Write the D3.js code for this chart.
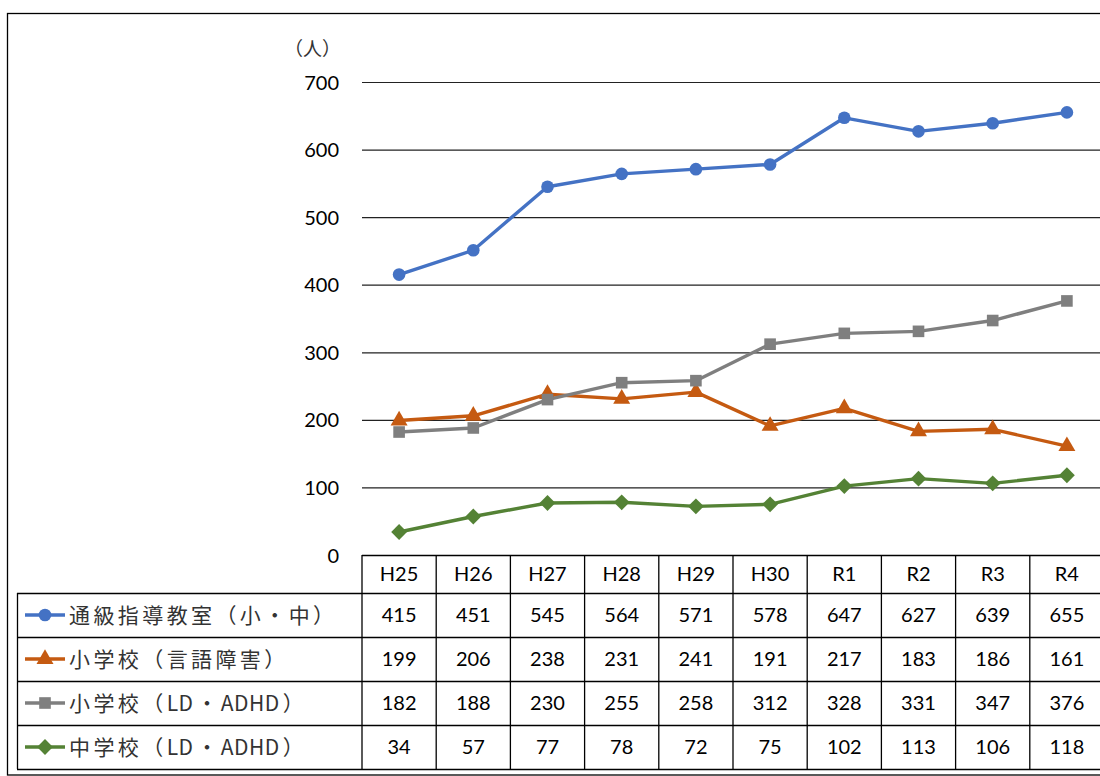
<!DOCTYPE html>
<html><head><meta charset="utf-8">
<script src="https://cdn.jsdelivr.net/npm/d3@7"></script>
<style>
html,body{margin:0;padding:0;background:#fff;}
svg{display:block;}
</style></head>
<body>
<svg id="c" width="1100" height="776"></svg>
<script>
const categories = ["H25","H26","H27","H28","H29","H30","R1","R2","R3","R4"];
const seriesNames = ["通級指導教室（小・中）","小学校（言語障害）","小学校（LD・ADHD）","中学校（LD・ADHD）"];
const s1 = [415,451,545,564,571,578,647,627,639,655];
const s2 = [199,206,238,231,241,191,217,183,186,161];
const s3 = [182,188,230,255,258,312,328,331,347,376];
const s4 = [34,57,77,78,72,75,102,113,106,118];
const yTicks = [0,100,200,300,400,500,600,700];
const yUnit = "（人）";

const colors = ["#4472C4","#C55A11","#7F7F7F","#548235"];
const markers = [d3.symbolCircle, d3.symbolTriangle, d3.symbolSquare, d3.symbolSquare];
const markerSizes = [125, 125, 135, 125];
const markerRot = [0, 0, 0, 45];
const series = [s1,s2,s3,s4];

const svg = d3.select("#c");
const numFont = "Lato, 'Noto Sans CJK JP', sans-serif";
const jpFont = "'Noto Sans CJK JP', sans-serif";

svg.append("rect").attr("x",7.5).attr("y",13.5).attr("width",1100).attr("height",761.5)
  .attr("fill","none").attr("stroke","#000").attr("stroke-width",1.3);

const x0 = 362, colW = 74.2;
const x = d3.scaleBand().domain(categories).range([x0, x0 + colW*categories.length]);
const y = d3.scaleLinear().domain([0,700]).range([555,82]);

svg.append("g").selectAll("line").data(yTicks).join("line")
  .attr("x1",x0).attr("x2",1100).attr("y1",d=>y(d)+0.5).attr("y2",d=>y(d)+0.5)
  .attr("stroke","#222").attr("stroke-width",1.2);

const yAxis = d3.axisLeft(y).tickValues(yTicks).tickSize(0).tickPadding(0);
const ga = svg.append("g").attr("transform",`translate(339,0)`).call(yAxis);
ga.select(".domain").remove();
ga.selectAll("text").attr("font-family",numFont).attr("font-size",20).attr("fill","#000").attr("dy","0.35em");
svg.append("text").attr("x",341).attr("y",56).attr("text-anchor","end")
  .attr("font-family",jpFont).attr("font-size",19).attr("fill","#333").text(yUnit);

const cx = d => x(d) + x.bandwidth()/2;
const sym = i => d3.symbol().type(markers[i]).size(markerSizes[i]);
series.forEach((vals,i)=>{
  const line = d3.line().x((d,j)=>cx(categories[j])).y(d=>y(d));
  svg.append("path").datum(vals).attr("d",line).attr("fill","none")
    .attr("stroke",colors[i]).attr("stroke-width",3.4).attr("stroke-linejoin","round");
  svg.append("g").selectAll("path").data(vals).join("path")
    .attr("transform",(d,j)=>`translate(${cx(categories[j])},${y(d)}) rotate(${markerRot[i]})`)
    .attr("d",sym(i))
    .attr("fill",colors[i]);
});

const rowTops = [555,593,637,681,725,769];
const tbl = svg.append("g");
const xEnd = x0 + colW*categories.length;
tbl.append("line").attr("x1",x0).attr("x2",xEnd).attr("y1",555.5).attr("y2",555.5).attr("stroke","#000").attr("stroke-width",1.3);
rowTops.slice(1).forEach(t=>{
  tbl.append("line").attr("x1",17).attr("x2",xEnd).attr("y1",t+0.5).attr("y2",t+0.5).attr("stroke","#000").attr("stroke-width",1.3);
});
tbl.append("line").attr("x1",17.5).attr("x2",17.5).attr("y1",593).attr("y2",769).attr("stroke","#000").attr("stroke-width",1.3);
d3.range(categories.length+1).forEach(k=>{
  const xx = x0 + k*colW;
  tbl.append("line").attr("x1",xx).attr("x2",xx).attr("y1",555).attr("y2",769).attr("stroke","#000").attr("stroke-width",1.3);
});
tbl.selectAll("text.h").data(categories).join("text").attr("class","h")
  .attr("x",d=>cx(d)).attr("y",(rowTops[0]+rowTops[1])/2).attr("dy","0.36em")
  .attr("text-anchor","middle").attr("font-family",numFont).attr("font-size",20).attr("fill","#000").text(d=>d);

const isLatin = ch => /[A-Za-z0-9]/.test(ch);
series.forEach((vals,i)=>{
  const mid = (rowTops[i+1]+rowTops[i+2])/2;
  tbl.append("g").selectAll("text").data(vals).join("text")
    .attr("x",(d,j)=>cx(categories[j])).attr("y",mid).attr("dy","0.36em")
    .attr("text-anchor","middle").attr("font-family",numFont).attr("font-size",20).attr("fill","#000").text(d=>d);
  tbl.append("line").attr("x1",25).attr("x2",65).attr("y1",mid).attr("y2",mid)
    .attr("stroke",colors[i]).attr("stroke-width",3.4);
  tbl.append("path").attr("transform",`translate(45,${mid}) rotate(${markerRot[i]})`)
    .attr("d",sym(i)).attr("fill",colors[i]);
  const t = tbl.append("text").attr("x",69).attr("y",mid).attr("dy","0.36em")
    .attr("font-family",jpFont).attr("font-size",21).attr("fill","#333");
  const chars = Array.from(seriesNames[i]);
  chars.forEach((ch,k)=>{
    const nextLatin = k+1<chars.length && isLatin(chars[k+1]);
    const sp = (isLatin(ch) && nextLatin) ? 0.5 : 3.4;
    t.append("tspan").attr("letter-spacing",sp+"px").text(ch);
  });
});
</script>
</body></html>
